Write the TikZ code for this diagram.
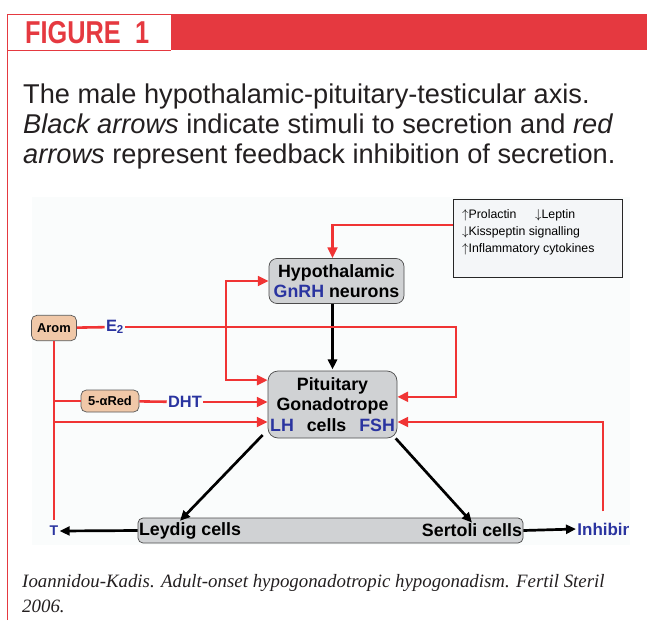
\documentclass[tikz,border=0pt]{standalone}
\usepackage{fontspec}
\setmainfont{Liberation Sans}
\newfontfamily\citefont{Liberation Serif}
\newfontfamily\figfont[FakeStretch=0.8]{Liberation Sans}
\usetikzlibrary{positioning,arrows.meta,calc}
\definecolor{figred}{RGB}{229,57,64}
\definecolor{fbred}{RGB}{240,52,52}
\definecolor{hblue}{RGB}{42,52,160}
\definecolor{cellgray}{RGB}{208,210,212}
\definecolor{enztan}{RGB}{240,200,168}
\definecolor{panel}{RGB}{250,252,252}
\definecolor{legfill}{RGB}{244,246,248}
\definecolor{ink}{RGB}{35,31,32}
\tikzset{
  % ---- axis diagram styles ----
  cellbox/.style={draw=black!70,fill=cellgray,rounded corners=3mm,line width=0.6pt,inner sep=0pt,
    align=center,font=\fontsize{15.2}{17.5}\selectfont\bfseries},
  enzbox/.style={draw=black!65,fill=enztan,rounded corners=1.6mm,line width=0.6pt,inner sep=0pt,
    font=\fontsize{11}{13}\selectfont\bfseries},
  hlbl/.style={text=hblue,font=\fontsize{14}{16}\selectfont\bfseries,inner sep=1pt},
  celltxt/.style={font=\fontsize{15.2}{17.5}\selectfont\bfseries,inner sep=1pt},
  legtxt/.style={font=\fontsize{10.5}{12}\selectfont,anchor=base west,inner sep=0pt},
  captxt/.style={text=ink,font=\fontsize{23.2}{27}\selectfont,anchor=base west,inner sep=0pt},
  inh/.style={-{Triangle[length=3.2mm,width=2.9mm]},fbred,line width=2.2pt},   % feedback inhibition
  inhln/.style={fbred,line width=2.2pt},
  stim/.style={-{Triangle[length=3mm,width=2.7mm]},black,line width=2.3pt}, % stimulus
}
\begin{document}
\begin{tikzpicture}[x=0.3mm,y=-0.3mm]
  \useasboundingbox (0,0) rectangle (647,620);
  % header band
  \fill[figred] (171,14) rectangle (647,50);
  \draw[figred,line width=0.6pt] (7,620) -- (7,14) -- (647,14);
  \draw[figred,line width=0.6pt] (7,50) -- (171,50);
  \node[text=figred,font=\figfont\fontsize{27}{27}\selectfont\bfseries,anchor=base west,inner sep=0pt]
    (fig) at (25,43) {FIGURE\hspace{0.45em}1};
  \node[captxt] (cap1) at (23,103) {The male hypothalamic-pituitary-testicular axis.};
  \node[captxt] (cap2) at (23,133) {\textit{Black arrows} indicate stimuli to secretion and \textit{red}};
  \node[captxt] (cap3) at (23,163) {\textit{arrows} represent feedback inhibition of secretion.};

  \fill[panel] (32,197) rectangle (630,545);

  % legend of modulators
  \node[draw=black!85,fill=legfill,line width=0.8pt,minimum width=50.7mm,minimum height=23.4mm,
    inner sep=0pt] (leg) at (537.5,238) {};
  \node[legtxt] (prl) at (462,218) {$\uparrow$Prolactin};
  \node[legtxt] (lep) at (535,218) {$\downarrow$Leptin};
  \node[legtxt] (kiss) at (462,235) {$\downarrow$Kisspeptin signalling};
  \node[legtxt] (cyto) at (462,252) {$\uparrow$Inflammatory cytokines};

  % hormone producing cells
  \node[cellbox,rounded corners=2.4mm,minimum width=40.5mm,minimum height=13.5mm] (hyp) at (336.5,281)
    {Hypothalamic\\\textcolor{hblue}{GnRH} neurons};
  \node[cellbox,minimum width=38.7mm,minimum height=20.1mm] (pit) at (332.5,404.5)
    {Pituitary\\Gonadotrope\\\textcolor{hblue}{LH}\hspace{11pt}cells\hspace{11pt}\textcolor{hblue}{FSH}};
  \node[draw=black!70,fill=cellgray,rounded corners=1.5mm,line width=0.6pt,minimum width=115.5mm,
    minimum height=7.5mm,inner sep=0pt] (testis) at (330.5,530.5) {};
  \node[celltxt,anchor=west] (leydig) at (testis.west) {Leydig cells};
  \node[celltxt,anchor=east] (sertoli) at (testis.east) {Sertoli cells};

  % enzymes and steroids
  \node[enzbox,minimum width=13.5mm,minimum height=7.6mm] (arom) at (54,328) {Arom};
  \node[enzbox,minimum width=17.4mm,minimum height=6.6mm] (red5) at (110,401) {5-αRed};
  \node[hlbl] (e2) at (115,327) {E\textsubscript{2}};
  \node[hlbl] (dht) at (185,402) {DHT};
  \node[hlbl,font=\fontsize{12}{14}\selectfont\bfseries] (tst) at (54,531) {T};
  \begin{scope}
    \clip (0,0) rectangle (628,620);
    \node[hlbl,font=\fontsize{14.5}{16}\selectfont\bfseries,anchor=west] (inhibin) at (576,529) {Inhibin};
  \end{scope}
  \coordinate (jx) at (226,0);
  \coordinate (rx) at (456,0);
  \coordinate (fx) at (603,0);

  % stimuli
  \draw[stim,shorten >=1pt] (hyp.south -| pit.north) -- (pit.north);
  \draw[stim] ([xshift=-1.5mm,yshift=1mm]pit.south west) -- ([xshift=-3mm]leydig.north);
  \draw[stim] ([xshift=-0.5mm]pit.south east) -- (sertoli.north);
  \draw[stim] (leydig.west) -- (tst.east);
  \draw[stim] (sertoli.east) -- (inhibin.west);

  % feedback inhibition
  \draw[inh] ([yshift=3.9mm]leg.west) -| (hyp.north -| pit.north);
  \draw[inhln] (arom) -- (e2);
  \draw[inh] (e2.east) -- (e2.east -| rx) |- ([yshift=2.3mm]pit.east);
  \draw[inh] (e2.east -| jx) |- (hyp.west);
  \draw[inh] (e2.east -| jx) |- ([yshift=7.3mm]pit.west);
  \draw[inhln] (arom.south) -- ([yshift=1.5mm]tst.north);
  \draw[inhln] (red5.west -| arom.south) -- (red5.west);
  \draw[inhln] (red5) -- (dht);
  \draw[inh] (dht.east) -- (dht.east -| pit.west);
  \draw[inh] ([yshift=-5.25mm]pit.west -| arom.south) -- ([yshift=-5.25mm]pit.west);
  \draw[inh] ([yshift=3mm]inhibin.north -| fx) |- ([yshift=-5.25mm]pit.east);

  % source
  \node[text=ink,font=\citefont\itshape\fontsize{16.1}{21}\selectfont,anchor=base west,inner sep=0pt]
    (src1) at (22,587) {Ioannidou-Kadis. Adult-onset hypogonadotropic hypogonadism. Fertil Steril};
  \node[text=ink,font=\citefont\itshape\fontsize{16.1}{21}\selectfont,anchor=base west,inner sep=0pt]
    (src2) at (22,612) {2006.};
\end{tikzpicture}
\end{document}
